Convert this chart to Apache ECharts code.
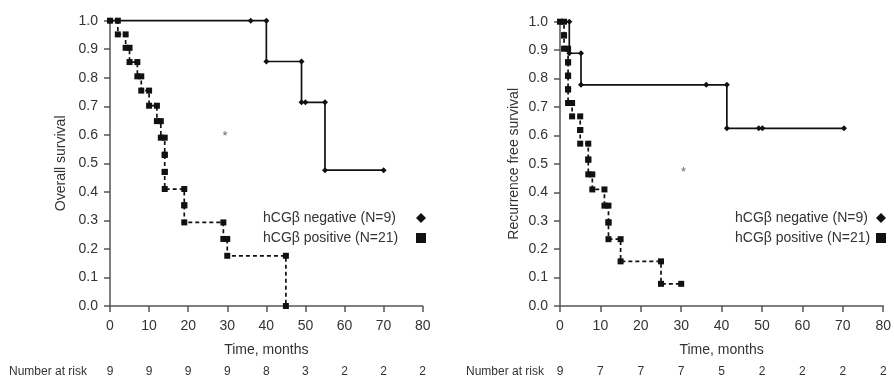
<!DOCTYPE html>
<html>
<head>
<meta charset="utf-8">
<script src="https://cdn.jsdelivr.net/npm/echarts@6/dist/echarts.min.js"></script>
<style>html,body{margin:0;padding:0;background:#fff}#c{width:894px;height:382px}</style>
</head>
<body>
<div id="c"></div>
<script>
// ---- Data ----
const NAME_NEG = 'hCGβ negative (N=9)';
const NAME_POS = 'hCGβ positive (N=21)';
const timeTicks = [0, 10, 20, 30, 40, 50, 60, 70, 80];

// Overall survival (left)
const osNegEventTime = [40, 49, 55];
const osNegEventSurv = [0.857, 0.714, 0.476];
const osNegCensor = [36, 50, 70];
const osPosEventTime = [2, 4, 5, 7, 8, 10, 12, 13, 14, 14, 14, 19, 19, 29, 30, 45];
const osPosEventSurv = [0.952, 0.905, 0.855, 0.805, 0.755, 0.702, 0.648, 0.59, 0.53, 0.47, 0.41, 0.353, 0.293, 0.235, 0.176, 0];
const osPosCensor = [];
const osRisk = [9, 9, 9, 9, 8, 3, 2, 2, 2];
const osStar = [[29.4, 0.595]];

// Recurrence free survival (right)
const rfsNegEventTime = [2.3, 5.2, 41.3];
const rfsNegEventSurv = [0.889, 0.778, 0.625];
const rfsNegCensor = [36.2, 49.2, 50.1, 70.3];
const rfsPosEventTime = [1, 1, 2, 2, 2, 2, 3, 5, 5, 7, 7, 8, 11, 12, 12, 15, 25];
const rfsPosEventSurv = [0.952, 0.905, 0.857, 0.81, 0.762, 0.714, 0.667, 0.619, 0.571, 0.515, 0.463, 0.41, 0.353, 0.294, 0.235, 0.157, 0.078];
const rfsPosCensor = [30];
const rfsRisk = [9, 7, 7, 7, 5, 2, 2, 2, 2];
const rfsStar = [[30.6, 0.47]];

// ---- Build Kaplan-Meier step paths ----
function kmPath(evT, evS, cenT) {
  const items = evT.map((t, i) => ({ t: t, s: evS[i], ev: true }))
    .concat(cenT.map(t => ({ t: t, ev: false })));
  items.sort((a, b) => a.t - b.t);
  let prev = 1;
  const pts = [[0, 1]];
  items.forEach(it => {
    if (it.ev) { pts.push([it.t, prev]); pts.push([it.t, it.s]); prev = it.s; }
    else { pts.push([it.t, prev]); }
  });
  return pts;
}

const FONT = '"Liberation Sans", Arial, sans-serif';
const TXT = '#333';
const AX = '#555';

function xAxisMain(gi) {
  return {
    type: 'value', gridIndex: gi, min: 0, max: 80, interval: 10,
    name: 'Time, months', nameLocation: 'middle', nameGap: 37,
    nameTextStyle: { fontFamily: FONT, fontSize: 14, color: TXT },
    axisLine: { show: true, onZero: false, lineStyle: { color: AX, width: 1.5 } },
    axisTick: { show: true, inside: false, length: 6, lineStyle: { color: AX, width: 1.5 } },
    axisLabel: { fontFamily: FONT, fontSize: 14, color: TXT, margin: 13 },
    splitLine: { show: false }
  };
}
function xAxisRisk(gi, risk) {
  return {
    type: 'value', gridIndex: gi, min: 0, max: 80, interval: 10, position: 'bottom',
    axisLine: { show: false }, axisTick: { show: false }, splitLine: { show: false },
    axisLabel: { fontFamily: FONT, fontSize: 12, color: TXT, margin: 60,
      showMinLabel: true, showMaxLabel: true,
      formatter: v => String(risk[timeTicks.indexOf(v)]) }
  };
}
function yAxis(gi, name, gap) {
  return {
    type: 'value', gridIndex: gi, min: 0, max: 1, interval: 0.1,
    name: name, nameLocation: 'middle', nameGap: gap, nameRotate: 90,
    nameTextStyle: { fontFamily: FONT, fontSize: 14, color: TXT },
    axisLine: { show: true, onZero: false, lineStyle: { color: AX, width: 1.5 } },
    axisTick: { show: true, inside: false, length: 6, lineStyle: { color: AX, width: 1.5 } },
    axisLabel: { fontFamily: FONT, fontSize: 14, color: TXT, margin: 12, formatter: v => v.toFixed(1) },
    splitLine: { show: false }
  };
}
function negSeries(xi, yi, pts) {
  return {
    name: NAME_NEG, type: 'line', xAxisIndex: xi, yAxisIndex: yi, data: pts,
    symbol: 'diamond', symbolSize: 6, showSymbol: true, clip: false, animation: false,
    lineStyle: { color: '#111', width: 1.7, type: 'solid' },
    itemStyle: { color: '#111' }, z: 3
  };
}
function posSeries(xi, yi, pts) {
  return {
    name: NAME_POS, type: 'line', xAxisIndex: xi, yAxisIndex: yi, data: pts,
    symbol: 'rect', symbolSize: 6, showSymbol: true, clip: false, animation: false,
    lineStyle: { color: '#111', width: 1.7, type: [4, 3] },
    itemStyle: { color: '#111' }, z: 4
  };
}
function starSeries(xi, yi, pts) {
  return {
    type: 'scatter', xAxisIndex: xi, yAxisIndex: yi, data: pts, symbolSize: 0,
    silent: true, animation: false,
    label: { show: true, position: 'inside', formatter: '*', fontFamily: FONT, fontSize: 13, color: '#444' }
  };
}
function legend(left, textW) {
  return {
    orient: 'vertical', left: left, top: 205, align: 'right', itemGap: 4,
    itemWidth: 10, itemHeight: 10, itemStyle: { color: '#111', borderWidth: 0 },
    selectedMode: false,
    formatter: n => '{a|' + n + '}',
    textStyle: { fontFamily: FONT, fontSize: 14, color: TXT, lineHeight: 16,
      rich: { a: { width: textW, align: 'left', fontFamily: FONT, fontSize: 14, color: TXT, lineHeight: 16 } } },
    data: [ { name: NAME_NEG, icon: 'diamond' }, { name: NAME_POS, icon: 'rect' } ]
  };
}

const option = {
  backgroundColor: '#fff',
  animation: false,
  grid: [
    { left: 110, top: 20.7, width: 312.7, height: 285.3 },
    { left: 560, top: 21.7, width: 325.7, height: 284.3 }
  ],
  xAxis: [ xAxisMain(0), xAxisMain(1), xAxisRisk(0, osRisk), xAxisRisk(1, rfsRisk) ],
  yAxis: [ yAxis(0, 'Overall survival', 42), yAxis(1, 'Recurrence free survival', 39) ],
  legend: [ legend(258, 148), legend(730, 136) ],
  graphic: [
    { type: 'text', left: 9, top: 366, style: { text: 'Number at risk', font: '12px ' + FONT, fill: TXT } },
    { type: 'text', left: 466, top: 366, style: { text: 'Number at risk', font: '12px ' + FONT, fill: TXT } }
  ],
  series: [
    negSeries(0, 0, kmPath(osNegEventTime, osNegEventSurv, osNegCensor)),
    posSeries(0, 0, kmPath(osPosEventTime, osPosEventSurv, osPosCensor)),
    starSeries(0, 0, osStar),
    negSeries(1, 1, kmPath(rfsNegEventTime, rfsNegEventSurv, rfsNegCensor)),
    posSeries(1, 1, kmPath(rfsPosEventTime, rfsPosEventSurv, rfsPosCensor)),
    starSeries(1, 1, rfsStar)
  ]
};

const chart = echarts.init(document.getElementById('c'), null, { renderer: 'canvas' });
chart.setOption(option);
</script>
</body>
</html>
